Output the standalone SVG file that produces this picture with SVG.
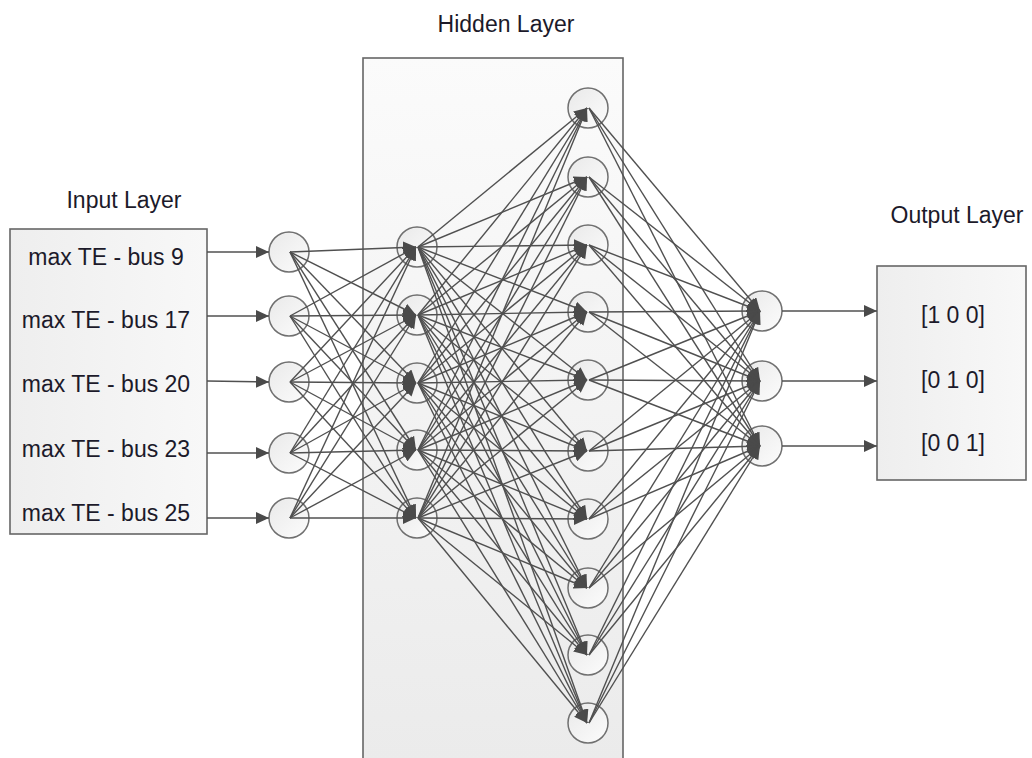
<svg xmlns="http://www.w3.org/2000/svg" width="1032" height="758" viewBox="0 0 1032 758">
<defs>
<style>
.lbl{font-family:"Liberation Sans",Arial,sans-serif;font-size:23px;fill:#1c1a2a;text-anchor:middle}
.box{stroke:#666;stroke-width:1.6}
.n{fill:url(#ng);stroke:#707070;stroke-width:1.5}
.c{stroke:#505050;stroke-width:1.4;fill:none;marker-end:url(#ah)}
</style>
<linearGradient id="hg" x1="0" y1="0" x2="0" y2="1"><stop offset="0" stop-color="#fbfbfb"/><stop offset="1" stop-color="#ebebeb"/></linearGradient>
<linearGradient id="ig" x1="0" y1="0" x2="1" y2="0"><stop offset="0" stop-color="#eeeeee"/><stop offset="1" stop-color="#f8f8f8"/></linearGradient>
<linearGradient id="ng" x1="0" y1="0" x2="1" y2="1"><stop offset="0" stop-color="#e9e9e9"/><stop offset="1" stop-color="#fcfcfc"/></linearGradient>
<marker id="ah" markerUnits="userSpaceOnUse" markerWidth="14" markerHeight="12" refX="13" refY="6" orient="auto"><path d="M0,0 L13,6 L0,12 z" fill="#4a4a4a"/></marker>
</defs>
<rect width="1032" height="758" fill="#fff"/>
<g id="input-layer"><rect class="box" x="10" y="229" width="197" height="305" fill="url(#ig)"/>
<text class="lbl" x="124" y="208">Input Layer</text>
<text class="lbl" x="106" y="265">max TE - bus 9</text>
<text class="lbl" x="106" y="328">max TE - bus 17</text>
<text class="lbl" x="106" y="392">max TE - bus 20</text>
<text class="lbl" x="106" y="457">max TE - bus 23</text>
<text class="lbl" x="106" y="521">max TE - bus 25</text></g>
<g id="hidden-layer"><rect class="box" x="363" y="58" width="260" height="702" fill="url(#hg)"/>
<text class="lbl" x="506" y="32">Hidden Layer</text></g>
<g id="output-layer"><rect class="box" x="877" y="266" width="149" height="214" fill="url(#ig)"/>
<text class="lbl" x="957" y="223">Output Layer</text>
<text class="lbl" x="953" y="323">[1 0 0]</text>
<text class="lbl" x="953" y="388">[0 1 0]</text>
<text class="lbl" x="953" y="451">[0 0 1]</text></g>
<g id="in1"><circle class="n" cx="289" cy="252" r="20"/></g>
<g id="in2"><circle class="n" cx="289" cy="316" r="20"/></g>
<g id="in3"><circle class="n" cx="289" cy="382" r="20"/></g>
<g id="in4"><circle class="n" cx="289" cy="453" r="20"/></g>
<g id="in5"><circle class="n" cx="289" cy="518" r="20"/></g>
<g id="h1a"><circle class="n" cx="417" cy="247" r="20"/></g>
<g id="h1b"><circle class="n" cx="417" cy="315" r="20"/></g>
<g id="h1c"><circle class="n" cx="417" cy="383" r="20"/></g>
<g id="h1d"><circle class="n" cx="417" cy="450" r="20"/></g>
<g id="h1e"><circle class="n" cx="417" cy="518" r="20"/></g>
<g id="h2a"><circle class="n" cx="588" cy="108" r="20"/></g>
<g id="h2b"><circle class="n" cx="588" cy="177" r="20"/></g>
<g id="h2c"><circle class="n" cx="588" cy="245" r="20"/></g>
<g id="h2d"><circle class="n" cx="588" cy="312" r="20"/></g>
<g id="h2e"><circle class="n" cx="588" cy="380" r="20"/></g>
<g id="h2f"><circle class="n" cx="588" cy="451" r="20"/></g>
<g id="h2g"><circle class="n" cx="588" cy="519" r="20"/></g>
<g id="h2h"><circle class="n" cx="588" cy="588" r="20"/></g>
<g id="h2i"><circle class="n" cx="588" cy="655" r="20"/></g>
<g id="h2j"><circle class="n" cx="588" cy="723" r="20"/></g>
<g id="o1"><circle class="n" cx="762" cy="311" r="20"/></g>
<g id="o2"><circle class="n" cx="762" cy="381" r="20"/></g>
<g id="o3"><circle class="n" cx="762" cy="446" r="20"/></g>
<g id="connectors">
<line class="c" x1="207" y1="252" x2="269" y2="252"/>
<line class="c" x1="207" y1="316" x2="269" y2="316"/>
<line class="c" x1="207" y1="381" x2="269" y2="382"/>
<line class="c" x1="207" y1="453" x2="269" y2="453"/>
<line class="c" x1="207" y1="518" x2="269" y2="518"/>
<line class="c" x1="782" y1="311" x2="877" y2="311"/>
<line class="c" x1="782" y1="381" x2="877" y2="381"/>
<line class="c" x1="782" y1="446" x2="877" y2="446"/>
<line class="c" x1="290" y1="252" x2="416" y2="247"/><line class="c" x1="290" y1="252" x2="416" y2="315"/><line class="c" x1="290" y1="252" x2="416" y2="383"/><line class="c" x1="290" y1="252" x2="416" y2="450"/><line class="c" x1="290" y1="252" x2="416" y2="518"/>
<line class="c" x1="290" y1="316" x2="416" y2="247"/><line class="c" x1="290" y1="316" x2="416" y2="315"/><line class="c" x1="290" y1="316" x2="416" y2="383"/><line class="c" x1="290" y1="316" x2="416" y2="450"/><line class="c" x1="290" y1="316" x2="416" y2="518"/>
<line class="c" x1="290" y1="382" x2="416" y2="247"/><line class="c" x1="290" y1="382" x2="416" y2="315"/><line class="c" x1="290" y1="382" x2="416" y2="383"/><line class="c" x1="290" y1="382" x2="416" y2="450"/><line class="c" x1="290" y1="382" x2="416" y2="518"/>
<line class="c" x1="290" y1="453" x2="416" y2="247"/><line class="c" x1="290" y1="453" x2="416" y2="315"/><line class="c" x1="290" y1="453" x2="416" y2="383"/><line class="c" x1="290" y1="453" x2="416" y2="450"/><line class="c" x1="290" y1="453" x2="416" y2="518"/>
<line class="c" x1="290" y1="518" x2="416" y2="247"/><line class="c" x1="290" y1="518" x2="416" y2="315"/><line class="c" x1="290" y1="518" x2="416" y2="383"/><line class="c" x1="290" y1="518" x2="416" y2="450"/><line class="c" x1="290" y1="518" x2="416" y2="518"/>
<line class="c" x1="418" y1="247" x2="587" y2="108"/><line class="c" x1="418" y1="247" x2="587" y2="177"/><line class="c" x1="418" y1="247" x2="587" y2="245"/><line class="c" x1="418" y1="247" x2="587" y2="312"/><line class="c" x1="418" y1="247" x2="587" y2="380"/><line class="c" x1="418" y1="247" x2="587" y2="451"/><line class="c" x1="418" y1="247" x2="587" y2="519"/><line class="c" x1="418" y1="247" x2="587" y2="588"/><line class="c" x1="418" y1="247" x2="587" y2="655"/><line class="c" x1="418" y1="247" x2="587" y2="723"/>
<line class="c" x1="418" y1="315" x2="587" y2="108"/><line class="c" x1="418" y1="315" x2="587" y2="177"/><line class="c" x1="418" y1="315" x2="587" y2="245"/><line class="c" x1="418" y1="315" x2="587" y2="312"/><line class="c" x1="418" y1="315" x2="587" y2="380"/><line class="c" x1="418" y1="315" x2="587" y2="451"/><line class="c" x1="418" y1="315" x2="587" y2="519"/><line class="c" x1="418" y1="315" x2="587" y2="588"/><line class="c" x1="418" y1="315" x2="587" y2="655"/><line class="c" x1="418" y1="315" x2="587" y2="723"/>
<line class="c" x1="418" y1="383" x2="587" y2="108"/><line class="c" x1="418" y1="383" x2="587" y2="177"/><line class="c" x1="418" y1="383" x2="587" y2="245"/><line class="c" x1="418" y1="383" x2="587" y2="312"/><line class="c" x1="418" y1="383" x2="587" y2="380"/><line class="c" x1="418" y1="383" x2="587" y2="451"/><line class="c" x1="418" y1="383" x2="587" y2="519"/><line class="c" x1="418" y1="383" x2="587" y2="588"/><line class="c" x1="418" y1="383" x2="587" y2="655"/><line class="c" x1="418" y1="383" x2="587" y2="723"/>
<line class="c" x1="418" y1="450" x2="587" y2="108"/><line class="c" x1="418" y1="450" x2="587" y2="177"/><line class="c" x1="418" y1="450" x2="587" y2="245"/><line class="c" x1="418" y1="450" x2="587" y2="312"/><line class="c" x1="418" y1="450" x2="587" y2="380"/><line class="c" x1="418" y1="450" x2="587" y2="451"/><line class="c" x1="418" y1="450" x2="587" y2="519"/><line class="c" x1="418" y1="450" x2="587" y2="588"/><line class="c" x1="418" y1="450" x2="587" y2="655"/><line class="c" x1="418" y1="450" x2="587" y2="723"/>
<line class="c" x1="418" y1="518" x2="587" y2="108"/><line class="c" x1="418" y1="518" x2="587" y2="177"/><line class="c" x1="418" y1="518" x2="587" y2="245"/><line class="c" x1="418" y1="518" x2="587" y2="312"/><line class="c" x1="418" y1="518" x2="587" y2="380"/><line class="c" x1="418" y1="518" x2="587" y2="451"/><line class="c" x1="418" y1="518" x2="587" y2="519"/><line class="c" x1="418" y1="518" x2="587" y2="588"/><line class="c" x1="418" y1="518" x2="587" y2="655"/><line class="c" x1="418" y1="518" x2="587" y2="723"/>
<line class="c" x1="589" y1="108" x2="760" y2="311"/><line class="c" x1="589" y1="108" x2="760" y2="381"/><line class="c" x1="589" y1="108" x2="760" y2="446"/>
<line class="c" x1="589" y1="177" x2="760" y2="311"/><line class="c" x1="589" y1="177" x2="760" y2="381"/><line class="c" x1="589" y1="177" x2="760" y2="446"/>
<line class="c" x1="589" y1="245" x2="760" y2="311"/><line class="c" x1="589" y1="245" x2="760" y2="381"/><line class="c" x1="589" y1="245" x2="760" y2="446"/>
<line class="c" x1="589" y1="312" x2="760" y2="311"/><line class="c" x1="589" y1="312" x2="760" y2="381"/><line class="c" x1="589" y1="312" x2="760" y2="446"/>
<line class="c" x1="589" y1="380" x2="760" y2="311"/><line class="c" x1="589" y1="380" x2="760" y2="381"/><line class="c" x1="589" y1="380" x2="760" y2="446"/>
<line class="c" x1="589" y1="451" x2="760" y2="311"/><line class="c" x1="589" y1="451" x2="760" y2="381"/><line class="c" x1="589" y1="451" x2="760" y2="446"/>
<line class="c" x1="589" y1="519" x2="760" y2="311"/><line class="c" x1="589" y1="519" x2="760" y2="381"/><line class="c" x1="589" y1="519" x2="760" y2="446"/>
<line class="c" x1="589" y1="588" x2="760" y2="311"/><line class="c" x1="589" y1="588" x2="760" y2="381"/><line class="c" x1="589" y1="588" x2="760" y2="446"/>
<line class="c" x1="589" y1="655" x2="760" y2="311"/><line class="c" x1="589" y1="655" x2="760" y2="381"/><line class="c" x1="589" y1="655" x2="760" y2="446"/>
<line class="c" x1="589" y1="723" x2="760" y2="311"/><line class="c" x1="589" y1="723" x2="760" y2="381"/><line class="c" x1="589" y1="723" x2="760" y2="446"/>
</g>
</svg>
